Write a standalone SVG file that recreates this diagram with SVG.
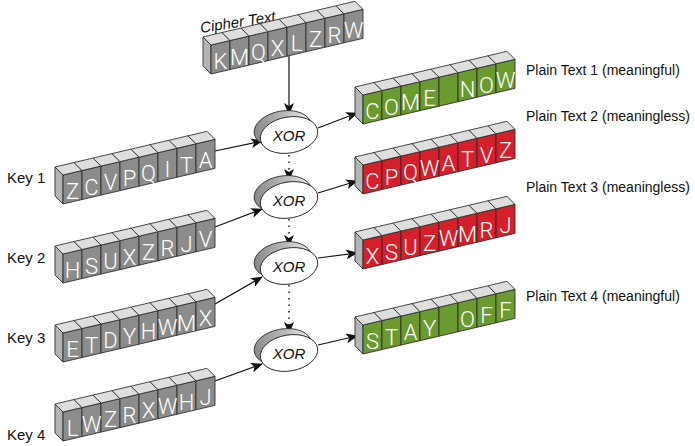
<svg xmlns="http://www.w3.org/2000/svg" width="695" height="446" viewBox="0 0 695 446">
<style>
.fr{stroke:#2a2a2a;stroke-width:0.8;stroke-linejoin:round}
.g{fill:#8c8c8c}.gr{fill:#6a9a30}.rd{fill:#d51f2b}
.tp{fill:#dedede;stroke:#2a2a2a;stroke-width:0.8;stroke-linejoin:round}
.sd{fill:#b4b4b4;stroke:#2a2a2a;stroke-width:0.8;stroke-linejoin:round}
.lt{font-family:Roboto,"Liberation Sans",Arial,sans-serif;font-weight:300;font-size:22px;fill:#fff;text-anchor:middle}
.lb{font-family:"Liberation Sans",Arial,sans-serif;font-size:15px;fill:#111}
.pl{font-size:14px}
.it{font-style:italic}
.ln{stroke:#111;stroke-width:1.2;fill:none}
.dt{stroke:#111;stroke-width:1.4;fill:none;stroke-dasharray:1.5 5}
</style>
<defs>
<marker id="ah" viewBox="0 0 12 10" refX="11" refY="5" markerWidth="12" markerHeight="10" markerUnits="userSpaceOnUse" orient="auto">
<path d="M0,0 L12,5 L0,10 L3,5 Z" fill="#111"/>
</marker>
<linearGradient id="xg" x1="0" y1="0" x2="1" y2="0">
<stop offset="0" stop-color="#888"/><stop offset="0.6" stop-color="#bbb"/><stop offset="1" stop-color="#eee"/>
</linearGradient>
<g id="blk">
<rect class="fr" x="0" y="0" width="19" height="29"/>
<polygon class="tp" points="0,0 19,0 11,-9.9 -8,-9.9"/>
</g>
<polygon id="side" class="sd" points="0,0 0,29 -8,19.1 -8,-9.9"/>
<g id="row">
<use href="#side"/>
<use href="#blk" x="0"/><use href="#blk" x="19"/><use href="#blk" x="38"/><use href="#blk" x="57"/><use href="#blk" x="76"/><use href="#blk" x="95"/><use href="#blk" x="114"/><use href="#blk" x="133"/>
</g>
<g id="xor">
<ellipse cx="-5" cy="-7" rx="29" ry="18" fill="url(#xg)" stroke="#222" stroke-width="0.8"/>
<ellipse cx="0" cy="0" rx="29" ry="18" fill="#fff" stroke="#222" stroke-width="0.9"/>
</g>
</defs>

<text class="lb it" x="201" y="33" transform="rotate(-9 201 33)" font-size="16">Cipher Text</text>
<text class="lb pl" x="526" y="75">Plain Text 1 (meaningful)</text>
<text class="lb pl" x="526" y="121">Plain Text 2 (meaningless)</text>
<text class="lb pl" x="526" y="192">Plain Text 3 (meaningless)</text>
<text class="lb pl" x="526" y="301">Plain Text 4 (meaningful)</text>
<text class="lb" x="7" y="183">Key 1</text>
<text class="lb" x="7" y="263">Key 2</text>
<text class="lb" x="7" y="343">Key 3</text>
<text class="lb" x="7" y="440">Key 4</text>

<g id="connectors">
<line class="ln" x1="289" y1="56" x2="289" y2="114" marker-end="url(#ah)"/>
<line class="ln" x1="215" y1="151" x2="262" y2="141" marker-end="url(#ah)"/>
<line class="ln" x1="215" y1="227" x2="262" y2="209" marker-end="url(#ah)"/>
<line class="ln" x1="215" y1="304" x2="262" y2="277" marker-end="url(#ah)"/>
<line class="ln" x1="215" y1="381" x2="262" y2="364" marker-end="url(#ah)"/>
<line class="ln" x1="318" y1="128" x2="357" y2="113" marker-end="url(#ah)"/>
<line class="ln" x1="318" y1="193" x2="357" y2="181" marker-end="url(#ah)"/>
<line class="ln" x1="318" y1="258" x2="357" y2="253" marker-end="url(#ah)"/>
<line class="ln" x1="318" y1="345" x2="357" y2="336" marker-end="url(#ah)"/>
<line class="dt" x1="289" y1="155" x2="289" y2="180" marker-end="url(#ah)"/>
<line class="dt" x1="289" y1="219" x2="289" y2="246" marker-end="url(#ah)"/>
<line class="dt" x1="289" y1="285" x2="289" y2="333" marker-end="url(#ah)"/>
</g>

<g id="xor1"><use href="#xor" transform="translate(289,135) rotate(-10)"/><text class="lb it" x="289" y="141" text-anchor="middle" font-size="17">XOR</text></g>
<g id="xor2"><use href="#xor" transform="translate(289,200) rotate(-10)"/><text class="lb it" x="289" y="206" text-anchor="middle" font-size="17">XOR</text></g>
<g id="xor3"><use href="#xor" transform="translate(289,266) rotate(-10)"/><text class="lb it" x="289" y="272" text-anchor="middle" font-size="17">XOR</text></g>
<g id="xor4"><use href="#xor" transform="translate(289,353) rotate(-10)"/><text class="lb it" x="289" y="359" text-anchor="middle" font-size="17">XOR</text></g>

<g id="cipher">
<use href="#row" class="g" transform="translate(211,45) skewY(-13.2)"/>
<text class="lt" x="220.5 239.5 258.5 277.5 296.5 315.5 334.5 353.5" y="69.3 64.8 60.3 55.9 51.4 46.9 42.5 38.0">KMQXLZRW</text>
</g>
<g id="key1">
<use href="#row" class="g" transform="translate(63,175) skewY(-13.2)"/>
<text class="lt" x="72.5 91.5 110.5 129.5 148.5 167.5 186.5 205.5" y="199.3 194.8 190.3 185.9 181.4 176.9 172.5 168.0">ZCVPQITA</text>
</g>
<g id="key2">
<use href="#row" class="g" transform="translate(63,254) skewY(-13.2)"/>
<text class="lt" x="72.5 91.5 110.5 129.5 148.5 167.5 186.5 205.5" y="278.3 273.8 269.3 264.9 260.4 255.9 251.5 247.0">HSUXZRJV</text>
</g>
<g id="key3">
<use href="#row" class="g" transform="translate(63,333) skewY(-13.2)"/>
<text class="lt" x="72.5 91.5 110.5 129.5 148.5 167.5 186.5 205.5" y="357.3 352.8 348.3 343.9 339.4 334.9 330.5 326.0">ETDYHWMX</text>
</g>
<g id="key4">
<use href="#row" class="g" transform="translate(63,412) skewY(-13.2)"/>
<text class="lt" x="72.5 91.5 110.5 129.5 148.5 167.5 186.5 205.5" y="436.3 431.8 427.3 422.9 418.4 413.9 409.5 405.0">LWZRXWHJ</text>
</g>
<g id="plain1">
<use href="#row" class="gr" transform="translate(363,95) skewY(-13.2)"/>
<text class="lt" x="372.5 391.5 410.5 429.5 448.5 467.5 486.5 505.5" y="119.3 114.8 110.3 105.9 101.4 96.9 92.5 88.0">COME NOW</text>
</g>
<g id="plain2">
<use href="#row" class="rd" transform="translate(363,165) skewY(-13.2)"/>
<text class="lt" x="372.5 391.5 410.5 429.5 448.5 467.5 486.5 505.5" y="189.3 184.8 180.3 175.9 171.4 166.9 162.5 158.0">CPQWATVZ</text>
</g>
<g id="plain3">
<use href="#row" class="rd" transform="translate(363,240) skewY(-13.2)"/>
<text class="lt" x="372.5 391.5 410.5 429.5 448.5 467.5 486.5 505.5" y="264.3 259.8 255.3 250.9 246.4 241.9 237.5 233.0">XSUZWMRJ</text>
</g>
<g id="plain4">
<use href="#row" class="gr" transform="translate(363,325) skewY(-13.2)"/>
<text class="lt" x="372.5 391.5 410.5 429.5 448.5 467.5 486.5 505.5" y="349.3 344.8 340.3 335.9 331.4 326.9 322.5 318.0">STAY OFF</text>
</g>
</svg>
